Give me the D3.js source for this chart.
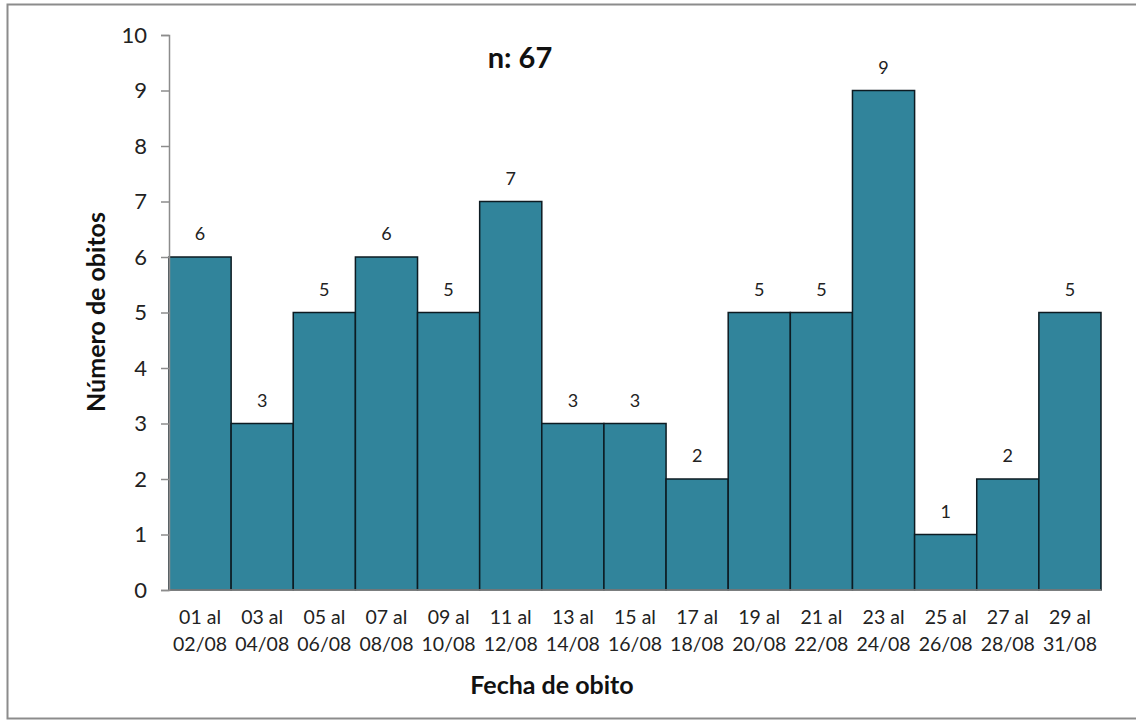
<!DOCTYPE html>
<html>
<head>
<meta charset="utf-8">
<script src="https://cdn.jsdelivr.net/npm/d3@7"></script>
<style>
  html, body { margin: 0; padding: 0; background: #fff; }
  svg { display: block; font-family: Lato, "Open Sans", sans-serif; }
</style>
</head>
<body>
<svg id="chart" width="1136" height="720"></svg>
<script>
// Deaths per two-day period, August
const periodStart = ["01 al", "03 al", "05 al", "07 al", "09 al", "11 al", "13 al", "15 al",
                     "17 al", "19 al", "21 al", "23 al", "25 al", "27 al", "29 al"];
const periodEnd = ["02/08", "04/08", "06/08", "08/08", "10/08", "12/08", "14/08", "16/08",
                   "18/08", "20/08", "22/08", "24/08", "26/08", "28/08", "31/08"];
const deaths = [6, 3, 5, 6, 5, 7, 3, 3, 2, 5, 5, 9, 1, 2, 5];
const yTicks = [0, 1, 2, 3, 4, 5, 6, 7, 8, 9, 10];
const totalLabel = "n: 67";

const svg = d3.select("#chart");

// outer frame
svg.append("rect")
  .attr("x", 7.5).attr("y", 4.5)
  .attr("width", 1140).attr("height", 714)
  .attr("fill", "none").attr("stroke", "#8c8c8c").attr("stroke-width", 2);

const plot = { left: 169, right: 1101, top: 35, bottom: 590 };

const x = d3.scaleBand()
  .domain(d3.range(deaths.length))
  .range([plot.left, plot.right])
  .padding(0);

const y = d3.scaleLinear()
  .domain([0, 10])
  .range([plot.bottom, plot.top]);

// bars
svg.append("g")
  .selectAll("rect")
  .data(deaths)
  .join("rect")
  .attr("x", (d, i) => x(i))
  .attr("y", d => y(d))
  .attr("width", x.bandwidth())
  .attr("height", d => y(0) - y(d))
  .attr("fill", "#31849b")
  .attr("stroke", "#0d1b22")
  .attr("stroke-width", 1.5);

// value labels
svg.append("g")
  .selectAll("text")
  .data(deaths)
  .join("text")
  .attr("x", (d, i) => x(i) + x.bandwidth() / 2)
  .attr("y", d => y(d) - 17)
  .attr("text-anchor", "middle")
  .attr("font-size", 18)
  .attr("fill", "#222")
  .text(d => d);

// y axis
const yAxis = d3.axisLeft(y)
  .tickValues(yTicks)
  .tickSize(8)
  .tickPadding(14)
  .tickFormat(d3.format("d"));

const gy = svg.append("g")
  .attr("transform", `translate(${plot.left},0)`)
  .call(yAxis);
gy.select(".domain").attr("stroke", "#8c8c8c").attr("stroke-width", 1.5);
gy.selectAll(".tick line").attr("stroke", "#8c8c8c").attr("stroke-width", 1.5);
gy.selectAll(".tick text")
  .attr("font-size", 22)
  .attr("font-family", "Lato, 'Open Sans', sans-serif")
  .attr("fill", "#222");

// baseline
svg.append("line")
  .attr("x1", plot.left).attr("x2", plot.right)
  .attr("y1", y(0)).attr("y2", y(0))
  .attr("stroke", "#8c8c8c").attr("stroke-width", 1.5);

// x category labels (two lines)
const xl = svg.append("g")
  .selectAll("text")
  .data(periodStart)
  .join("text")
  .attr("x", (d, i) => x(i) + x.bandwidth() / 2)
  .attr("text-anchor", "middle")
  .attr("font-size", 19.5)
  .attr("fill", "#222");
xl.append("tspan")
  .attr("x", (d, i) => x(i) + x.bandwidth() / 2)
  .attr("y", 624)
  .text(d => d);
xl.append("tspan")
  .attr("x", (d, i) => x(i) + x.bandwidth() / 2)
  .attr("y", 651)
  .text((d, i) => periodEnd[i]);

// axis titles
svg.append("text")
  .attr("x", 552)
  .attr("y", 694)
  .attr("text-anchor", "middle")
  .attr("font-size", 25)
  .attr("font-weight", "bold")
  .attr("fill", "#111")
  .text("Fecha de obito");

svg.append("text")
  .attr("transform", `translate(105,312) rotate(-90)`)
  .attr("text-anchor", "middle")
  .attr("font-size", 25)
  .attr("font-weight", "bold")
  .attr("fill", "#111")
  .text("Número de obitos");

// total
svg.append("text")
  .attr("x", 520)
  .attr("y", 68)
  .attr("text-anchor", "middle")
  .attr("font-size", 29)
  .attr("font-weight", "bold")
  .attr("fill", "#111")
  .text(totalLabel);
</script>
</body>
</html>
